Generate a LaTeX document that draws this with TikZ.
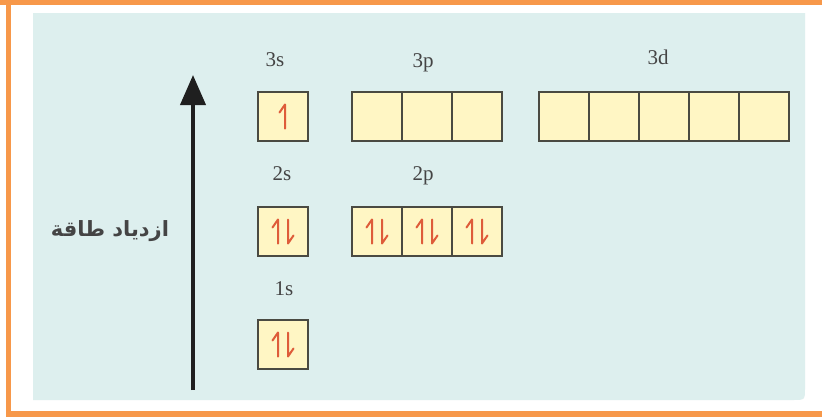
\documentclass[tikz,border=0pt]{standalone}
\usepackage{fontspec}
\setmainfont{Liberation Serif}
\newfontfamily\arabicfont[Script=Arabic]{DejaVu Sans}
\TeXXeTstate=1
\usetikzlibrary{arrows.meta}
\definecolor{panel}{HTML}{DDEFEE}
\definecolor{frame}{HTML}{F7984A}
\definecolor{boxfill}{HTML}{FFF6C4}
\definecolor{boxline}{HTML}{4A4A42}
\definecolor{spin}{HTML}{DE5C3A}
\definecolor{labelc}{HTML}{444444}
\begin{document}
\begin{tikzpicture}[x=1pt,y=-1pt,
 orb/.style={draw=boxline, fill=boxfill, line width=1.8pt, minimum width=50pt, minimum height=49pt, inner sep=0pt, outer sep=0pt, anchor=north west},
 lbl/.style={text=labelc, font=\fontsize{21}{24}\selectfont, anchor=base, inner sep=0pt},
 harp/.style={draw=spin, line width=2pt, line cap=round, line join=round},
 pics/harpup/.style={code={\draw[harp] (0,12) -- (0,-12) -- (-5.5,-4);}},
 pics/harpdown/.style={code={\draw[harp] (0,-12) -- (0,12) -- (5.5,4);}},
]
\useasboundingbox (0,0) rectangle (822,418);
% frame
\fill[white] (0,0) rectangle (822,418);
\fill[frame] (0,0) rectangle (822,4.5);
\fill[frame] (6,0) rectangle (11,417);
\fill[frame] (6,411) rectangle (822,417);
% panel
\fill[panel] (33,13) -- (805,13) -- (805,388) .. controls (805,400) .. (793,400) -- (33,400) -- cycle;
% arrow
\coordinate (abot) at (193,390);
\coordinate (atop) at (193,75);
\draw[line width=4pt, black!88, -{Triangle[length=30pt,width=25pt]}] (abot) -- (atop);
\node[font=\arabicfont\bfseries\fontsize{21}{24}\selectfont, text=labelc, inner sep=0pt] (energy) at (110,231) {\beginR ازدياد طاقة\endR};
% labels
\node[lbl] (l3s) at (275,66) {3s};
\node[lbl] (l3p) at (423,67) {3p};
\node[lbl] (l3d) at (658,64) {3d};
\node[lbl] (l2s) at (282,180) {2s};
\node[lbl] (l2p) at (423,180) {2p};
\node[lbl] (l1s) at (284,295) {1s};
% row 3
\node[orb] (s3) at (258,92) {};
\foreach \i/\n in {0/a,1/b,2/c} \node[orb] (p3\n) at (352+50*\i,92) {};
\foreach \i/\n in {0/a,1/b,2/c,3/d,4/e} \node[orb] (d3\n) at (539+50*\i,92) {};
% row 2
\node[orb] (s2) at (258,207) {};
\foreach \i/\n in {0/a,1/b,2/c} \node[orb] (p2\n) at (352+50*\i,207) {};
% row 1
\node[orb] (s1) at (258,320) {};
% electrons
\pic at ([xshift=2pt]s3.center) {harpup};
\foreach \b in {s2,p2a,p2b,p2c,s1} {
  \pic at ([xshift=-5pt]\b.center) {harpup};
  \pic at ([xshift=5pt]\b.center) {harpdown};
}
\end{tikzpicture}
\end{document}
